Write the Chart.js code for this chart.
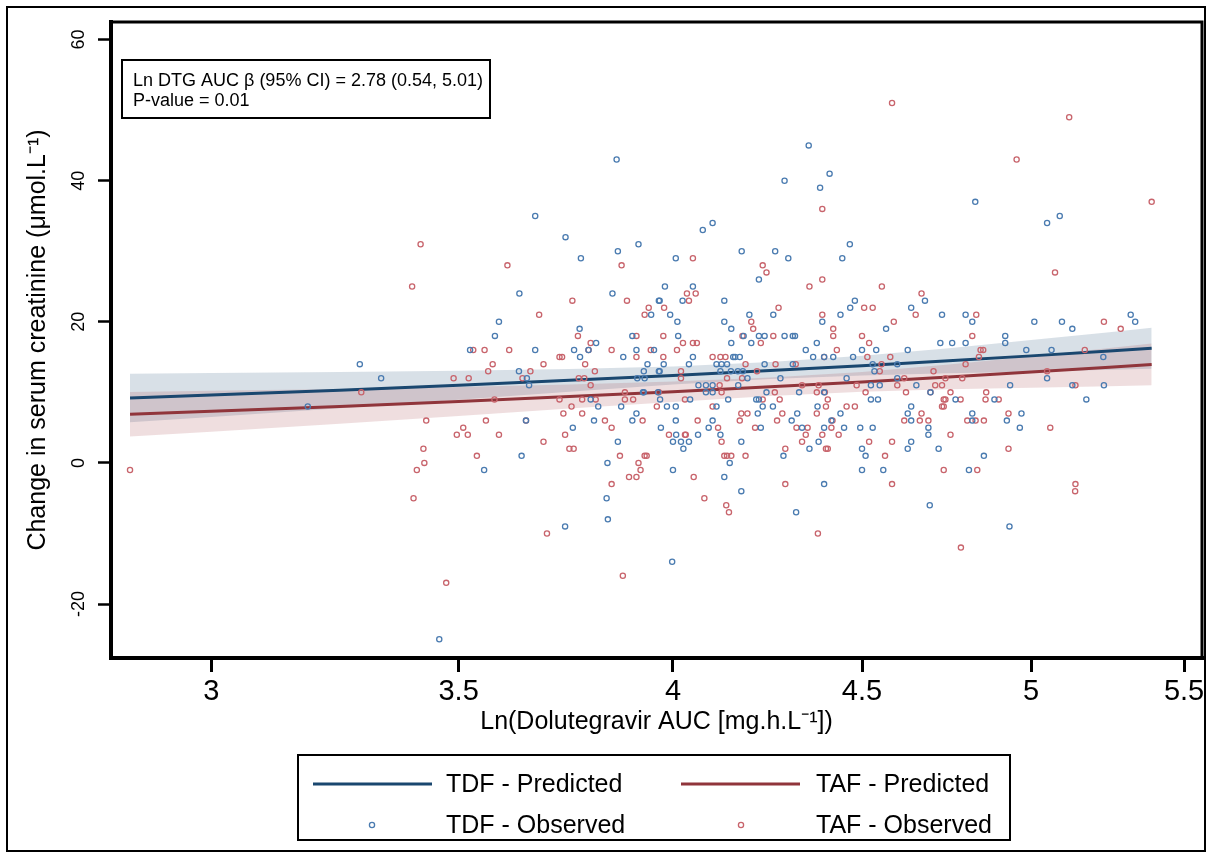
<!DOCTYPE html>
<html>
<head>
<meta charset="utf-8">
<script src="https://cdn.jsdelivr.net/npm/chart.js@4.4.1/dist/chart.umd.min.js"></script>
<style>
  html, body { margin: 0; padding: 0; background: #fff; }
  canvas { display: block; }
</style>
</head>
<body>
<canvas id="chart" width="1212" height="858"></canvas>
<script>
// axis ticks
const xTicks = [3, 3.5, 4, 4.5, 5, 5.5];
const yTicks = [-20, 0, 20, 40, 60];

// TDF observed (x = Ln DTG AUC, y = change in creatinine)
const tdfX = [
  3.186, 3.291, 3.335,
  3.862, 3.671, 4.075, 4.10, 3.741, 3.865, 3.915, 3.777, 4.007, 4.175,
  4.22, 3.98, 4.05, 3.635, 3.852,
  3.965, 3.967, 4.024, 4.13,
  3.946, 3.993, 4.195,
  3.589, 4.011, 4.13,
  3.774, 4.148,
  3.58, 3.90, 4.013, 4.18, 4.22, 4.235,
  3.813, 4.148, 4.20,
  3.525, 3.671, 3.761, 3.795, 3.91, 3.953,
  3.775, 3.878, 4.05, 4.153, 4.158, 4.17,
  3.937, 3.977, 4.04, 4.11, 4.123, 4.137, 4.235,
  3.634, 3.928, 3.965, 3.967, 4.12, 4.147, 4.165, 4.178,
  3.652, 3.912, 3.93, 4.19,
  3.657, 4.064, 4.083, 4.10, 4.166,
  3.926, 3.928, 3.963, 4.083, 4.10, 4.24,
  3.80, 3.968, 4.043, 4.14, 4.213, 4.22,
  3.818, 3.873, 3.985, 4.007, 4.11, 4.23,
  3.91, 4.217,
  3.65, 3.808, 3.90, 4.007, 4.10,
  3.758, 3.97, 4.09, 4.225,
  4.008, 4.063, 4.12,
  3.865, 4.00, 4.02, 4.04, 4.174,
  4.026, 3.64, 3.84, 4.144, 3.556, 4.00, 4.13,
  4.353, 4.41, 4.288, 4.384, 4.829, 5.09, 5.05, 4.466, 4.263, 4.298, 4.445,
  4.68, 4.48, 4.467, 4.64,
  4.258, 4.44, 4.73, 4.80, 5.32,
  4.39, 4.82, 5.01, 5.097, 5.335,
  4.568, 5.13,
  4.288, 4.31, 4.316, 4.92,
  4.375, 4.725, 4.76, 4.80, 4.92,
  4.345, 4.50, 4.54, 4.63, 4.985, 5.064,
  4.365, 4.395, 4.42, 4.475, 5.23,
  4.31, 4.53, 4.60, 4.535,
  4.277, 4.457, 4.60, 5.05,
  4.525, 4.55, 4.655, 4.935, 5.13, 5.232,
  4.327, 4.395, 4.696,
  4.525, 4.545, 4.77, 4.887, 5.175,
  4.257, 4.377, 4.64,
  4.322, 4.44, 4.63, 4.82, 4.97,
  4.307, 4.415, 4.64, 4.82, 4.925,
  4.335, 4.395, 4.45, 4.495, 4.53, 4.69, 4.965,
  4.69, 4.38, 4.64,
  4.355, 4.50, 4.63, 4.72,
  4.285, 4.51, 4.855,
  4.50, 4.56, 4.81, 4.395,
  4.174, 3.838, 4.694, 4.319, 3.841, 3.740, 4.933, 3.998, 3.458
];
const tdfY = [
  8, 14, 12,
  43, 35, 33, 34, 32, 30, 31, 29, 29, 30,
  26, 25, 25, 24, 24,
  23, 23, 23, 23,
  21, 21, 21,
  20, 20, 20,
  19, 19,
  18, 18, 18, 18, 18, 18,
  17, 17, 17,
  16, 16, 16, 16, 16, 16,
  15, 15, 15, 15, 15, 15,
  14, 14, 14, 14, 14, 14, 14,
  13, 13, 13, 13, 13, 13, 13, 13,
  12, 12, 12, 12,
  11, 11, 11, 11, 11,
  10, 10, 10, 10, 10, 10,
  9, 9, 9, 9, 9, 9,
  8, 8, 8, 8, 8, 8,
  7, 7,
  6, 6, 6, 6, 6,
  5, 5, 5, 5,
  4, 4, 4,
  3, 3, 3, 3, 3,
  2, 1, 0, 0, -1, -1, -2,
  45, 41, 40, 39, 37, 35, 34, 31, 30, 29, 29,
  23, 23, 22, 22,
  21, 21, 21, 21, 21,
  20, 20, 20, 20, 20,
  19, 19,
  18, 18, 18, 18,
  17, 17, 17, 17, 17,
  16, 16, 16, 16, 16, 16,
  15, 15, 15, 15, 15,
  14, 14, 14, 13,
  12, 12, 12, 12,
  11, 11, 11, 11, 11, 11,
  10, 10, 10,
  9, 9, 9, 9, 9,
  8, 8, 8,
  7, 7, 7, 7, 7,
  6, 6, 6, 6, 6,
  5, 5, 5, 5, 5, 5, 5,
  4, 3, 3,
  2, 2, 2, 2,
  1, 1, 1,
  -1, -1, -1, -3,
  -4, -5, -6, -7, -8, -9, -9, -14, -25
];

// TAF observed
const tafX = [
  2.852, 3.294, 3.418, 4.05,
  3.608, 3.874, 4.23, 4.24, 3.40,
  4.035, 4.057,
  3.757, 3.887, 4.04,
  3.94, 3.978, 3.68, 3.93,
  4.20, 4.205,
  3.77, 3.91, 3.976, 4.177,
  3.80, 4.025, 4.05, 4.06, 4.225,
  3.532, 3.557, 3.612, 3.795, 3.85, 3.945, 4.01,
  3.727, 3.733, 3.91, 3.976, 4.10, 4.12, 4.133,
  3.575, 3.69, 3.787, 4.185,
  3.565, 3.66, 3.81, 4.02, 4.215,
  3.489, 3.522, 3.642, 3.772, 3.785, 4.02, 4.137, 4.176,
  3.80, 4.118,
  3.882, 3.965, 4.123,
  3.579, 3.727, 3.78, 3.812, 3.882, 3.902, 4.03, 4.23,
  3.755, 3.96, 4.10,
  3.736, 3.78, 4.174, 4.19,
  3.43, 3.56, 3.65, 3.834, 3.925, 4.062, 4.17,
  3.51, 3.85, 4.114, 4.21,
  3.496, 3.52, 3.589, 3.74, 3.99, 4.03, 4.032,
  3.69, 4.123,
  3.424, 3.75, 3.76,
  3.54, 3.87, 3.93, 3.935, 4.13, 4.137, 4.148, 4.185,
  3.426, 3.915, 3.41, 3.92,
  3.892, 3.91, 4.052, 3.85,
  4.585, 5.12, 4.955, 5.39, 4.39, 5.075, 4.39, 4.355, 4.556, 4.67,
  4.272, 4.506, 4.53,
  4.39, 4.653, 4.832,
  4.59, 5.232, 4.42, 5.287,
  4.258, 4.42, 4.50, 4.82, 4.52,
  4.43, 4.845, 4.853, 5.17,
  4.395, 4.515, 4.58, 4.84,
  4.264, 4.318, 4.555, 4.80,
  4.55, 4.705, 5.05,
  4.62, 4.74, 4.79,
  4.335, 4.38, 4.485, 4.60, 4.71, 4.73, 5.14,
  4.262, 4.375, 4.397, 4.51, 4.625, 4.696, 4.755, 4.862,
  4.275, 4.405, 4.735, 4.74, 4.785, 4.86, 4.90,
  4.40, 4.457, 4.48, 4.73, 4.735,
  4.282, 4.375, 4.67, 4.93,
  4.268, 4.418, 4.62, 4.665, 4.69, 4.805, 4.83, 4.855,
  4.32, 4.35, 4.415, 5.06,
  4.345, 4.39, 4.435, 4.755,
  4.335, 4.52, 4.585,
  4.29, 4.40, 4.405, 4.93,
  4.565, 4.735, 4.835,
  4.29, 4.585, 5.14,
  5.139, 3.403, 4.079, 4.135, 4.142, 3.698, 4.378, 4.786, 3.877, 3.473
];
const tafY = [
  -1, 10, 31, 29,
  28, 28, 28, 27, 25,
  24, 24,
  23, 23, 23,
  22, 22, 21, 21,
  20, 19,
  18, 18, 18, 18,
  17, 17, 17, 17, 17,
  16, 16, 16, 16, 16, 16, 16,
  15, 15, 15, 15, 15, 15, 15,
  14, 14, 14, 14,
  13, 13, 13, 13, 13,
  12, 12, 12, 12, 12, 12, 12, 12,
  11, 11,
  10, 10, 10,
  9, 9, 9, 9, 9, 9, 9, 9,
  8, 8, 8,
  7, 7, 7, 7,
  6, 6, 6, 6, 6, 6, 6,
  5, 5, 5, 5,
  4, 4, 4, 4, 4, 4, 4,
  3, 3,
  2, 2, 2,
  1, 1, 1, 1, 1, 1, 1, 1,
  0, 0, -1, -1,
  -2, -2, -2, -3,
  51, 49, 43, 37, 36, 27, 26, 25, 25, 24,
  22, 22, 22,
  21, 21, 21,
  20, 20, 19, 19,
  18, 18, 18, 18, 17,
  16, 16, 16, 16,
  15, 15, 15, 15,
  14, 14, 14, 14,
  13, 13, 13,
  12, 12, 12,
  11, 11, 11, 11, 11, 11, 11,
  10, 10, 10, 10, 10, 10, 10, 10,
  9, 9, 9, 9, 9, 9, 9,
  8, 8, 8, 8, 8,
  7, 7, 7, 7,
  6, 6, 6, 6, 6, 6, 6, 6,
  5, 5, 5, 5,
  4, 4, 4, 4,
  3, 3, 3,
  2, 2, 2, 2,
  1, -1, -1,
  -3, -3, -3,
  -4, -5, -5, -6, -7, -10, -10, -12, -16, -17
];

// fitted lines and 95% CI
const fitX   = [2.852, 3, 3.25, 3.5, 3.75, 4, 4.25, 4.5, 4.75, 5, 5.25, 5.39];
const tdfFit = [9.2, 9.61, 10.31, 11.0, 11.7, 12.39, 13.09, 13.78, 14.48, 15.17, 15.87, 16.26];
const tdfHi  = [12.65, 12.73, 12.88, 13.06, 13.31, 13.68, 14.30, 15.18, 16.26, 17.43, 18.52, 19.16];
const tdfLo  = [5.75, 6.49, 7.74, 8.94, 10.09, 11.10, 11.88, 12.38, 12.70, 12.91, 13.22, 13.36];
const tafFit = [6.9, 7.31, 8.01, 8.70, 9.40, 10.09, 10.79, 11.48, 12.18, 12.87, 13.57, 13.96];
const tafHi  = [10.05, 10.21, 10.46, 10.75, 11.10, 11.54, 12.09, 12.88, 13.93, 15.07, 16.27, 16.91];
const tafLo  = [3.75, 4.41, 5.56, 6.65, 7.70, 8.64, 9.49, 10.08, 10.43, 10.67, 10.87, 11.01];

const NAVY = '#1a476f';
const MAROON = '#90353b';
const BLUE_PT = '#4a7bb0';
const RED_PT = '#c8646c';
const SANS = "'Liberation Sans', Arial, sans-serif";

function pts(xs, ys) {
  const n = Math.min(xs.length, ys.length);
  const out = [];
  for (let i = 0; i < n; i++) out.push({ x: xs[i], y: ys[i] });
  return out;
}

function circle(ctx, x, y, color) {
  ctx.beginPath();
  ctx.arc(x, y, 2.6, 0, Math.PI * 2);
  ctx.strokeStyle = color;
  ctx.lineWidth = 1.3;
  ctx.stroke();
}

// frame, stats box and legend
const decor = {
  id: 'decor',
  afterDraw(chart) {
    const ctx = chart.ctx;
    const { left, right, top, bottom } = chart.chartArea;
    ctx.save();
    ctx.strokeStyle = '#000';
    ctx.lineCap = 'square';
    ctx.lineWidth = 3;
    ctx.beginPath();
    ctx.moveTo(left, top); ctx.lineTo(right, top); ctx.lineTo(right, bottom);
    ctx.stroke();
    ctx.lineWidth = 4;
    ctx.beginPath();
    ctx.moveTo(left, top); ctx.lineTo(left, bottom); ctx.lineTo(right, bottom);
    ctx.stroke();

    // outer border
    ctx.lineWidth = 2;
    ctx.strokeRect(7, 7, 1198, 844);

    // stats box
    ctx.lineWidth = 2;
    ctx.fillStyle = '#fff';
    ctx.fillRect(122, 60, 368, 58);
    ctx.strokeRect(122, 60, 368, 58);
    ctx.fillStyle = '#000';
    ctx.font = '18px ' + SANS;
    ctx.textBaseline = 'middle';
    ctx.textAlign = 'left';
    ctx.fillText('Ln DTG AUC \u03b2 (95% CI) = 2.78 (0.54, 5.01)', 133, 81);
    ctx.fillText('P-value = 0.01', 133, 101);

    // legend
    ctx.strokeRect(298, 755, 712, 85);
    ctx.font = '25px ' + SANS;
    ctx.lineWidth = 3;
    ctx.lineCap = 'butt';
    ctx.strokeStyle = NAVY;
    ctx.beginPath(); ctx.moveTo(313, 784); ctx.lineTo(432, 784); ctx.stroke();
    ctx.strokeStyle = MAROON;
    ctx.beginPath(); ctx.moveTo(681, 784); ctx.lineTo(800, 784); ctx.stroke();
    circle(ctx, 372, 825, BLUE_PT);
    circle(ctx, 741, 825, RED_PT);
    ctx.fillStyle = '#000';
    ctx.fillText('TDF - Predicted', 446, 785);
    ctx.fillText('TAF - Predicted', 816, 785);
    ctx.fillText('TDF - Observed', 446, 826);
    ctx.fillText('TAF - Observed', 816, 826);
    ctx.restore();
  }
};

const tickGrid = (len, w) => ({
  display: true, drawOnChartArea: false, drawTicks: true,
  tickLength: len, tickWidth: w, tickColor: '#000'
});

new Chart(document.getElementById('chart'), {
  type: 'scatter',
  data: {
    datasets: [
      { label: 'TDF - Observed', data: pts(tdfX, tdfY), order: 0,
        borderColor: BLUE_PT, backgroundColor: 'rgba(0,0,0,0)',
        pointRadius: 2.6, pointBorderWidth: 1.3 },
      { label: 'TAF - Observed', data: pts(tafX, tafY), order: 0,
        borderColor: RED_PT, backgroundColor: 'rgba(0,0,0,0)',
        pointRadius: 2.6, pointBorderWidth: 1.3 },
      { type: 'line', label: 'TDF - Predicted', data: pts(fitX, tdfFit), order: 1,
        borderColor: NAVY, borderWidth: 3, pointRadius: 0, fill: false },
      { type: 'line', label: 'TAF - Predicted', data: pts(fitX, tafFit), order: 1,
        borderColor: MAROON, borderWidth: 3, pointRadius: 0, fill: false },
      { type: 'line', label: 'tdfLo', data: pts(fitX, tdfLo), order: 3,
        borderWidth: 0, pointRadius: 0, fill: false },
      { type: 'line', label: 'tdfHi', data: pts(fitX, tdfHi), order: 3,
        borderWidth: 0, pointRadius: 0, fill: '-1',
        backgroundColor: 'rgba(26,71,111,0.17)' },
      { type: 'line', label: 'tafLo', data: pts(fitX, tafLo), order: 2,
        borderWidth: 0, pointRadius: 0, fill: false },
      { type: 'line', label: 'tafHi', data: pts(fitX, tafHi), order: 2,
        borderWidth: 0, pointRadius: 0, fill: '-1',
        backgroundColor: 'rgba(160,60,66,0.17)' }
    ]
  },
  options: {
    responsive: false,
    animation: false,
    devicePixelRatio: 1,
    layout: { padding: { left: 0, right: 10, top: 22, bottom: 0 } },
    plugins: { legend: { display: false }, tooltip: { enabled: false } },
    scales: {
      x: {
        type: 'logarithmic',
        min: 2.8184,
        max: 5.5617,
        afterBuildTicks: s => { s.ticks = xTicks.map(v => ({ value: v })); },
        afterFit: s => { s.height = 200; },
        grid: tickGrid(14, 3),
        border: { display: false },
        ticks: {
          autoSkip: false, minRotation: 0, maxRotation: 0, padding: 3,
          color: '#000', font: { family: SANS, size: 29 },
          callback: v => String(v)
        },
        title: {
          display: true, text: 'Ln(Dolutegravir AUC [mg.h.L\u207b\u00b9])', color: '#000',
          font: { family: SANS, size: 25 }, padding: { top: 0, bottom: 121 }
        }
      },
      y: {
        type: 'linear',
        min: -27.65,
        max: 62.49,
        afterBuildTicks: s => { s.ticks = yTicks.map(v => ({ value: v })); },
        afterFit: s => { s.width = 111; },
        grid: tickGrid(13, 2.5),
        border: { display: false },
        ticks: {
          autoSkip: false, minRotation: 90, maxRotation: 90, crossAlign: 'center', padding: 6,
          color: '#000', font: { family: SANS, size: 18 }
        },
        title: {
          display: true, text: 'Change in serum creatinine (\u03bcmol.L\u207b\u00b9)', color: '#000',
          font: { family: SANS, size: 25 }, padding: { top: 23, bottom: 0 }
        }
      }
    }
  },
  plugins: [decor]
});
</script>
</body>
</html>
